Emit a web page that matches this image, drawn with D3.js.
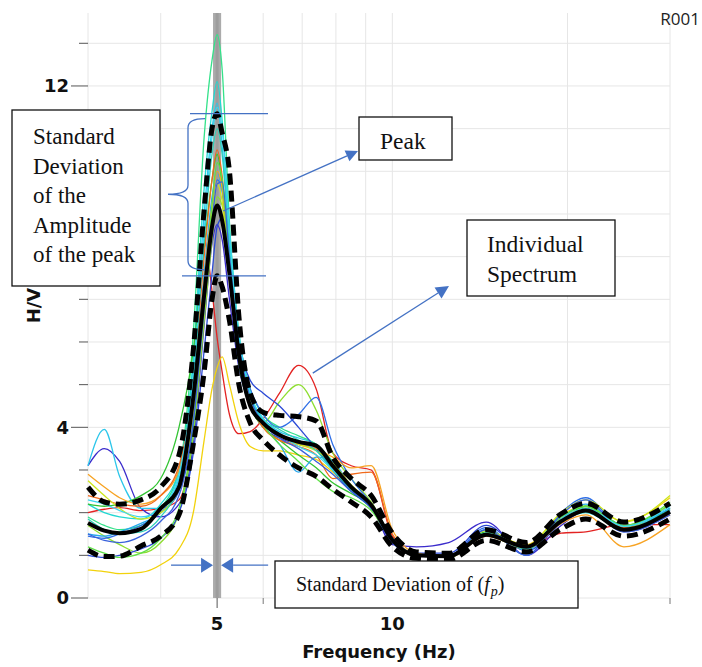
<!DOCTYPE html>
<html>
<head>
<meta charset="utf-8">
<script src="https://cdn.jsdelivr.net/npm/d3@7"></script>
<style>
  body { margin: 0; background: #fff; }
  svg { display: block; }
</style>
</head>
<body>
<svg id="chart" width="702" height="667"></svg>
<script>
// ---- H/V spectral ratio data (frequency in Hz, amplitude H/V) ----
const freqs = [3.0, 3.2, 3.4, 3.7, 4.0, 4.3, 4.55, 4.75, 4.9, 5.0, 5.1, 5.25, 5.45, 5.7, 6.0,
               6.4, 6.9, 7.4, 7.9, 8.5, 9.2, 10, 11, 12.5, 14.5, 17, 19.5, 21.5, 25, 30];

const meanCurve  = [1.76, 1.58, 1.52, 1.62, 2.1, 2.6, 4.7, 7.1, 8.7, 9.2, 8.85, 7.6, 5.7, 4.5, 4.1,
                    3.82, 3.66, 3.57, 3.1, 2.6, 2.18, 1.36, 1.0, 0.98, 1.48, 1.2, 1.8, 2.05, 1.6, 2.02];
const upperCurve = [2.6, 2.25, 2.2, 2.3, 2.6, 3.35, 5.8, 9.1, 11.0, 11.35, 10.9, 10.0, 6.6, 4.8, 4.35,
                    4.28, 4.25, 4.15, 3.3, 2.8, 2.4, 1.52, 1.08, 1.05, 1.6, 1.3, 1.97, 2.22, 1.78, 2.22];
const lowerCurve = [1.12, 0.97, 0.98, 1.22, 1.45, 1.95, 3.6, 5.3, 7.0, 7.55, 7.3, 6.5, 5.0, 4.1, 3.7,
                    3.35, 3.05, 2.85, 2.55, 2.25, 1.9, 1.2, 0.93, 0.9, 1.35, 1.08, 1.62, 1.85, 1.45, 1.85];

const spectrumColors = ["#e32322", "#f2d20c", "#3b2ccc", "#2cc6ea", "#34e28a", "#22d8d2",
                        "#33c433", "#8ede30", "#2f6fe6", "#2a49d6", "#28a8ee", "#f7a323",
                        "#f06a1c", "#cde61c", "#5fe048", "#2dd0b8", "#3a62dc", "#3cd6f0"];

const spectra = [
  [2.0, 2.08, 2.12, 2.05, 2.1, 2.3, 4.0, 8.4, 7.2, 6.1, 5.3, 4.3, 3.85, 3.9, 4.2, 4.8, 5.45, 4.9, 3.4, 3.1, 3.0, 1.45, 1.0, 0.96, 1.45, 1.2, 1.52, 1.55, 1.72, 1.72],
  [0.66, 0.62, 0.57, 0.6, 0.78, 1.15, 2.0, 3.7, 4.9, 5.4, 5.65, 5.0, 4.1, 3.55, 3.45, 3.45, 3.35, 3.25, 2.95, 2.5, 2.1, 1.3, 1.05, 1.0, 1.5, 1.25, 1.95, 2.15, 1.8, 2.35],
  [3.1, 3.5, 3.2, 2.1, 1.9, 2.2, 3.6, 6.4, 8.3, 8.75, 8.4, 7.0, 5.4, 4.5, 4.0, 3.75, 3.6, 3.5, 3.15, 2.6, 2.2, 1.25, 1.2, 1.3, 1.78, 1.0, 1.7, 2.05, 1.6, 2.0],
  [3.1, 3.95, 2.85, 2.1, 2.1, 2.8, 5.5, 9.0, 11.0, 11.6, 10.6, 8.5, 6.0, 4.7, 4.2, 3.9, 3.75, 3.6, 3.1, 2.55, 2.15, 1.35, 1.0, 0.98, 1.5, 1.18, 1.85, 2.1, 1.65, 2.1],
  [1.9, 1.7, 1.6, 1.7, 2.1, 3.0, 6.2, 10.8, 12.6, 13.2, 12.4, 8.8, 6.2, 4.9, 4.3, 4.0, 3.8, 3.6, 3.2, 2.6, 2.2, 1.4, 1.0, 0.95, 1.5, 1.2, 1.9, 2.15, 1.7, 2.2],
  [2.2, 2.0, 1.9, 1.85, 2.2, 3.0, 5.6, 9.6, 11.4, 12.1, 11.2, 8.6, 6.0, 4.7, 4.15, 3.85, 3.6, 3.5, 3.0, 2.5, 2.1, 1.35, 1.02, 0.98, 1.45, 1.15, 1.8, 2.0, 1.6, 2.0],
  [2.2, 2.15, 2.2, 2.4, 2.8, 4.0, 5.8, 8.2, 9.8, 10.4, 9.7, 7.6, 5.5, 4.5, 4.0, 3.7, 3.35, 3.05, 2.7, 2.45, 2.15, 1.35, 1.0, 0.95, 1.55, 1.2, 1.8, 2.15, 1.6, 2.1],
  [1.7, 1.45, 1.25, 1.05, 1.3, 2.0, 3.8, 6.5, 8.4, 9.4, 9.2, 7.6, 5.6, 4.5, 4.1, 4.6, 5.0, 4.4, 3.4, 2.8, 2.25, 1.4, 1.0, 0.95, 1.5, 1.15, 1.85, 2.1, 1.65, 2.2],
  [1.45, 1.4, 1.5, 1.7, 2.0, 2.5, 4.2, 7.0, 8.9, 9.8, 9.6, 7.8, 5.9, 4.9, 4.3, 4.0, 4.3, 4.7, 3.6, 2.8, 2.2, 1.3, 1.0, 1.0, 1.65, 1.0, 2.0, 2.35, 1.6, 2.05],
  [1.0, 0.95, 1.0, 1.15, 1.4, 2.0, 3.4, 5.8, 7.6, 8.7, 8.9, 7.6, 6.0, 5.1, 4.8, 4.5, 4.0, 3.5, 3.0, 2.5, 2.1, 1.3, 1.05, 1.05, 1.7, 1.1, 1.75, 2.1, 1.55, 1.95],
  [1.5, 1.45, 1.55, 1.75, 2.0, 2.6, 4.6, 7.6, 9.4, 10.0, 9.5, 7.8, 5.8, 4.6, 4.05, 3.6, 2.95, 3.3, 3.2, 2.6, 2.2, 1.35, 1.0, 0.98, 1.6, 1.12, 1.85, 2.2, 1.7, 2.1],
  [2.9, 2.6, 2.35, 2.2, 2.4, 3.0, 4.6, 7.4, 9.2, 10.0, 9.6, 7.6, 5.8, 4.6, 4.0, 3.7, 3.6, 3.5, 3.3, 3.05, 3.1, 1.6, 1.05, 0.95, 1.45, 1.15, 1.75, 1.95, 1.2, 1.72],
  [2.4, 2.3, 2.2, 2.15, 2.4, 3.1, 5.0, 8.0, 9.8, 10.5, 9.9, 7.9, 5.9, 4.6, 4.0, 3.7, 3.55, 3.35, 2.8, 2.9, 2.95, 1.5, 1.02, 0.96, 1.45, 1.18, 1.85, 2.05, 1.65, 1.95],
  [2.75, 2.4, 2.1, 1.85, 2.0, 2.6, 4.4, 7.2, 9.0, 9.7, 9.3, 7.5, 5.7, 4.6, 4.1, 3.8, 3.6, 3.45, 3.15, 2.65, 2.2, 1.38, 1.02, 1.0, 1.58, 1.22, 2.0, 2.3, 1.78, 2.4],
  [1.2, 1.05, 0.95, 1.05, 1.4, 2.1, 4.0, 7.0, 9.2, 10.2, 9.8, 7.8, 5.8, 4.6, 4.05, 3.6, 3.2, 2.8, 2.5, 2.35, 2.05, 1.35, 1.0, 0.95, 1.5, 1.18, 1.9, 2.15, 1.7, 2.25],
  [1.85, 1.6, 1.5, 1.55, 1.9, 2.7, 5.0, 8.4, 10.4, 11.0, 10.4, 8.2, 6.1, 4.8, 4.2, 3.95, 3.7, 3.45, 3.0, 2.55, 2.15, 1.35, 1.0, 0.96, 1.48, 1.15, 1.82, 2.05, 1.62, 2.05],
  [1.5, 1.35, 1.3, 1.45, 1.8, 2.4, 4.1, 6.8, 8.8, 9.7, 9.75, 8.0, 6.0, 4.7, 4.1, 3.75, 3.5, 3.2, 2.9, 2.5, 2.15, 1.3, 1.02, 1.0, 1.6, 1.0, 1.95, 2.3, 1.55, 1.95],
  [2.3, 2.2, 2.05, 1.9, 2.1, 2.9, 5.2, 8.6, 10.8, 11.5, 11.0, 8.6, 6.2, 4.8, 4.2, 3.85, 3.55, 3.35, 3.0, 2.6, 2.2, 1.4, 1.02, 0.97, 1.52, 1.17, 1.85, 2.1, 1.68, 2.15]
];

// peak frequency and its standard-deviation band
const peakFreq = 5.0;
const peakFreqBand = [4.92, 5.08];

// axes ticks
const yGridTicks = [0, 1, 2, 3, 4, 5, 6, 7, 8, 9, 10, 11, 12, 13];
const yMajorTicks = [0, 4, 8, 12];
const yLabelTicks = [0, 4, 12];
const xGridTicks = [3, 4, 5, 6, 7, 8, 9, 10, 20, 30];
const xMinorTicks = [6, 7, 8, 9, 20, 30];
const xLabelTicks = [5, 10];

// ---- layout ----
const svg = d3.select("#chart");
const plot = { left: 88, right: 670, top: 13, bottom: 598 };

const x = d3.scaleLog().domain([3, 30]).range([plot.left, plot.right]);
const y = d3.scaleLinear().domain([0, 13.71]).range([plot.bottom, plot.top]);

const tickFont = "'DejaVu Sans', Verdana, sans-serif";
const serif = "'Liberation Serif', 'Times New Roman', serif";
const blue = "#4472c4";

// grid
const grid = svg.append("g");
grid.selectAll("line.h").data(yGridTicks).join("line")
  .attr("x1", plot.left).attr("x2", plot.right)
  .attr("y1", d => y(d)).attr("y2", d => y(d))
  .attr("stroke", "#e6e6e6").attr("stroke-width", 1);
grid.selectAll("line.v").data(xGridTicks).join("line")
  .attr("x1", d => x(d)).attr("x2", d => x(d))
  .attr("y1", plot.top).attr("y2", plot.bottom)
  .attr("stroke", "#e6e6e6").attr("stroke-width", 1);

// peak frequency band
svg.append("rect")
  .attr("x", x(peakFreqBand[0]))
  .attr("width", x(peakFreqBand[1]) - x(peakFreqBand[0]))
  .attr("y", plot.top).attr("height", plot.bottom - plot.top)
  .attr("fill", "#ababab");
svg.append("line")
  .attr("x1", x(peakFreq)).attr("x2", x(peakFreq))
  .attr("y1", plot.top).attr("y2", plot.bottom)
  .attr("stroke", "#9d9d9d").attr("stroke-width", 3);

// curves
const line = d3.line()
  .x((d, i) => x(freqs[i]))
  .y(d => y(d))
  .curve(d3.curveMonotoneX);

const curves = svg.append("g").attr("fill", "none");
curves.selectAll("path.spec").data(spectra).join("path")
  .attr("d", d => line(d))
  .attr("stroke", (d, i) => spectrumColors[i])
  .attr("stroke-width", 1.3);

curves.append("path").attr("d", line(meanCurve))
  .attr("stroke", "#000").attr("stroke-width", 4);
[upperCurve, lowerCurve].forEach(c => {
  curves.append("path").attr("d", line(c))
    .attr("stroke", "#000").attr("stroke-width", 5)
    .attr("stroke-dasharray", "11 6");
});

// y axis ticks and labels
const yAxis = svg.append("g");
yAxis.selectAll("line").data(yGridTicks).join("line")
  .attr("x1", d => yMajorTicks.includes(d) ? plot.left - 17 : plot.left - 9)
  .attr("x2", plot.left)
  .attr("y1", d => y(d)).attr("y2", d => y(d))
  .attr("stroke", "#555").attr("stroke-width", 1);
yAxis.selectAll("text").data(yLabelTicks).join("text")
  .attr("x", plot.left - 19).attr("y", d => y(d)).attr("dy", "0.36em")
  .attr("text-anchor", "end")
  .attr("font-family", tickFont).attr("font-weight", "bold").attr("font-size", 18)
  .attr("fill", "#111")
  .text(d => d);

// x axis ticks and labels
const xAxis = svg.append("g");
xAxis.selectAll("line.major").data(xLabelTicks).join("line")
  .attr("x1", d => x(d)).attr("x2", d => x(d))
  .attr("y1", plot.bottom).attr("y2", plot.bottom + 10)
  .attr("stroke", "#555");
xAxis.selectAll("line.minor").data(xMinorTicks).join("line")
  .attr("x1", d => x(d)).attr("x2", d => x(d))
  .attr("y1", plot.bottom).attr("y2", plot.bottom + 6)
  .attr("stroke", "#777");
xAxis.selectAll("text").data(xLabelTicks).join("text")
  .attr("x", d => x(d)).attr("y", 630)
  .attr("text-anchor", "middle")
  .attr("font-family", tickFont).attr("font-weight", "bold").attr("font-size", 18)
  .attr("fill", "#111")
  .text(d => d);

svg.append("text")
  .attr("x", (plot.left + plot.right) / 2).attr("y", 658)
  .attr("text-anchor", "middle")
  .attr("font-family", tickFont).attr("font-weight", "bold").attr("font-size", 18)
  .attr("fill", "#111")
  .text("Frequency (Hz)");

svg.append("text")
  .attr("transform", `translate(40, ${(plot.top + plot.bottom) / 2}) rotate(-90)`)
  .attr("text-anchor", "middle")
  .attr("font-family", tickFont).attr("font-weight", "bold").attr("font-size", 18)
  .attr("fill", "#111")
  .text("H/V");

svg.append("text")
  .attr("x", 700).attr("y", 25)
  .attr("text-anchor", "end")
  .attr("font-family", "'Open Sans', 'DejaVu Sans', sans-serif").attr("font-size", 17)
  .attr("fill", "#222")
  .text("R001");

// ---- annotation layer ----
const ann = svg.append("g");

function arrow(x1, y1, x2, y2, len, halfW) {
  const a = Math.atan2(y2 - y1, x2 - x1);
  const bx = x2 - len * Math.cos(a), by = y2 - len * Math.sin(a);
  ann.append("line")
    .attr("x1", x1).attr("y1", y1).attr("x2", bx).attr("y2", by)
    .attr("stroke", blue).attr("stroke-width", 1.3);
  ann.append("path")
    .attr("d", `M${x2},${y2}L${bx + halfW * Math.sin(a)},${by - halfW * Math.cos(a)}L${bx - halfW * Math.sin(a)},${by + halfW * Math.cos(a)}Z`)
    .attr("fill", blue);
}

function box(x0, y0, w, h) {
  ann.append("rect")
    .attr("x", x0).attr("y", y0).attr("width", w).attr("height", h)
    .attr("fill", "#fff").attr("stroke", "#111").attr("stroke-width", 1.3);
}

function lines(x0, y0, lh, size, rows) {
  rows.forEach((r, i) => {
    ann.append("text")
      .attr("x", x0).attr("y", y0 + i * lh)
      .attr("font-family", serif).attr("font-size", size).attr("fill", "#111")
      .text(r);
  });
}

// amplitude spread markers at the top of the upper and lower curves
const yTop = y(d3.max(upperCurve));
const yBot = y(d3.max(lowerCurve));
ann.append("line").attr("x1", 190).attr("x2", 268).attr("y1", yTop).attr("y2", yTop)
  .attr("stroke", blue).attr("stroke-width", 1.3);
ann.append("line").attr("x1", 182).attr("x2", 266).attr("y1", yBot).attr("y2", yBot)
  .attr("stroke", blue).attr("stroke-width", 1.3);

const bTop = yTop + 5, bBot = yBot - 6, bMid = (bTop + bBot) / 2;
ann.append("path")
  .attr("d", `M205,${bTop} Q188,${bTop} 188,${bTop + 9} L188,${bMid - 9} Q188,${bMid} 168,${bMid}` +
             ` Q188,${bMid} 188,${bMid + 9} L188,${bBot - 9} Q188,${bBot} 205,${bBot}`)
  .attr("fill", "none").attr("stroke", blue).attr("stroke-width", 1.3);

box(12, 110, 148, 176);
lines(33, 144, 29.5, 23, ["Standard", "Deviation", "of the", "Amplitude", "of the peak"]);

// peak label
box(359, 117, 93, 43);
lines(380, 149, 0, 23.5, ["Peak"]);
arrow(x(5.12), y(9.07), 358, 151, 12, 6);

// individual spectrum label
box(467, 220, 148, 76);
lines(487, 252, 30, 23.5, ["Individual", "Spectrum"]);
arrow(x(7.3), y(5.27), 449, 286, 13, 6.5);

// peak frequency spread arrows
const yArr = y(0.77);
arrow(x(peakFreqBand[0]) - 42, yArr, x(peakFreqBand[0]), yArr, 12, 7.5);
arrow(x(peakFreqBand[1]) + 47, yArr, x(peakFreqBand[1]), yArr, 12, 7.5);

box(275, 561, 303, 47);
const fp = ann.append("text")
  .attr("x", 296).attr("y", 591)
  .attr("font-family", serif).attr("font-size", 20).attr("fill", "#111");
fp.append("tspan").text("Standard Deviation of (");
fp.append("tspan").attr("font-style", "italic").text("f");
fp.append("tspan").attr("font-style", "italic").attr("font-size", 14).attr("dy", 5).attr("dx", 1).text("p");
fp.append("tspan").attr("dy", -5).text(")");
</script>
</body>
</html>
